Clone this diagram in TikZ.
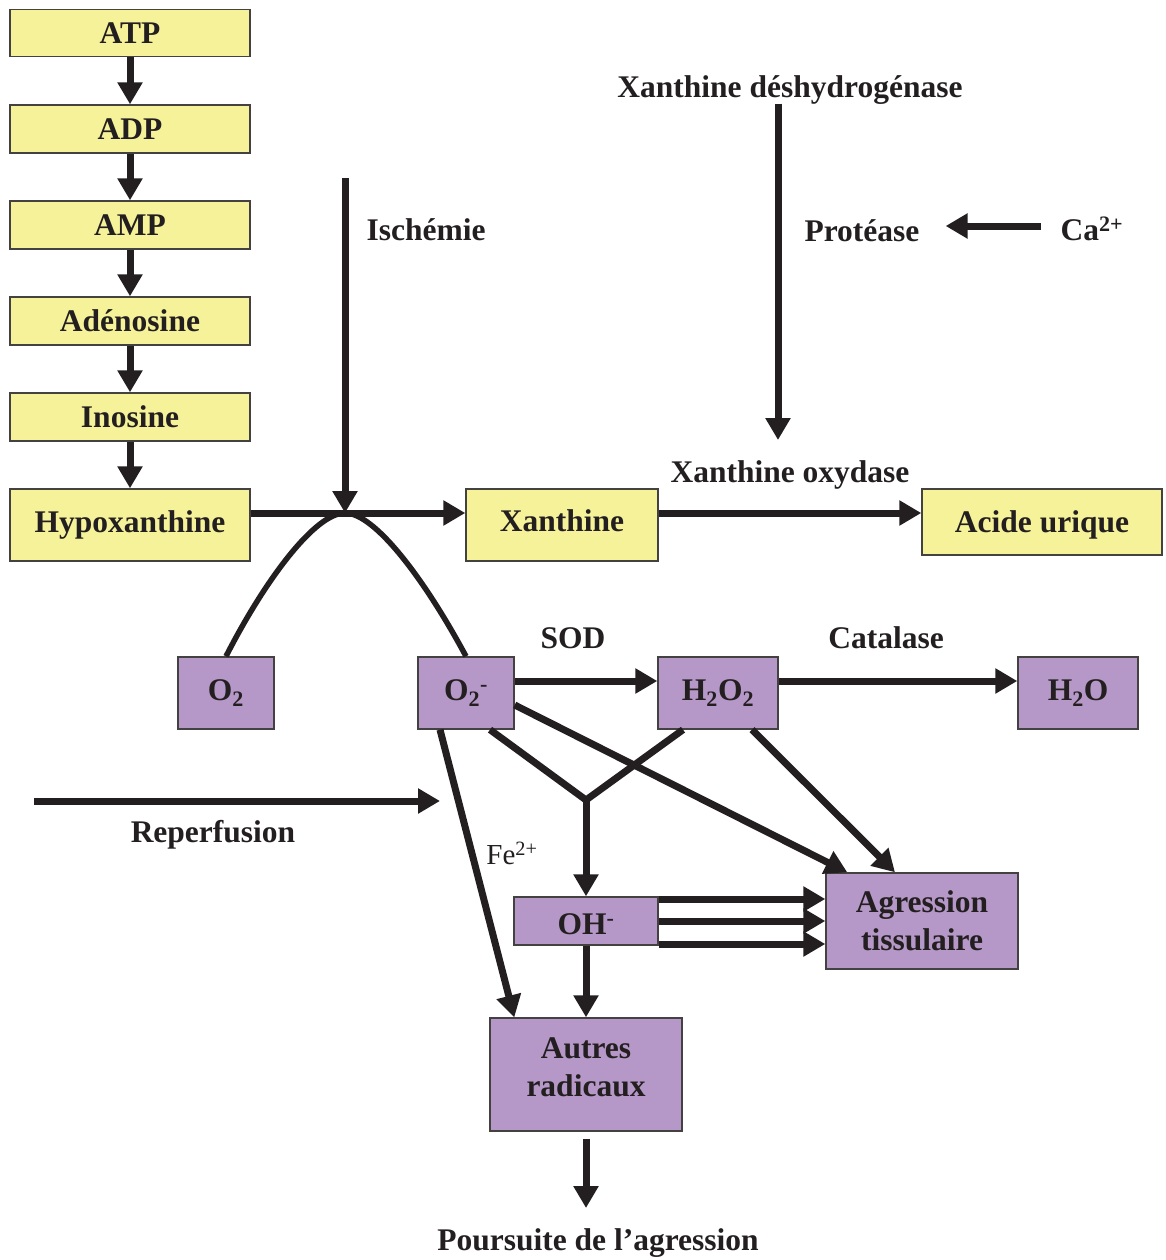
\documentclass[tikz,border=0pt]{standalone}
\usepackage{fontspec}
\setmainfont{Liberation Serif}
\usetikzlibrary{arrows.meta,calc}
\definecolor{ybg}{HTML}{F6F29A}
\definecolor{pbg}{HTML}{B598C7}
\definecolor{ink}{HTML}{231F20}
\begin{document}
\begin{tikzpicture}[x=1pt,y=-1pt,
  txt/.style={font=\fontsize{31.5}{38}\selectfont\bfseries, text=ink, inner sep=0pt, align=center},
  ybox/.style={txt, draw=ink!85, line width=1.4pt, fill=ybg, minimum width=240pt},
  pbox/.style={txt, draw=ink!85, line width=1.4pt, fill=pbg},
  arr/.style={draw=ink, line width=7pt, -{Triangle[length=22pt,width=24pt]}},
  ln/.style={draw=ink, line width=7pt, line join=round},
  curveline/.style={draw=ink, line width=5.5pt}]
\useasboundingbox (0,0) rectangle (1165,1260);
% yellow boxes
\node[ybox, minimum height=47pt] (atp) at (130,33) {ATP};
\node[ybox, minimum height=48pt] (adp) at (130,129) {ADP};
\node[ybox, minimum height=48pt] (amp) at (130,225) {AMP};
\node[ybox, minimum height=48pt] (ado) at (130,321) {Adénosine};
\node[ybox, minimum height=48pt] (ino) at (130,417) {Inosine};
\node[ybox, minimum height=72pt] (hyp) at (130,525) {Hypoxanthine};
\node[ybox, minimum width=192pt, minimum height=72pt, text depth=8pt] (xan) at (562,525) {Xanthine};
\node[ybox, minimum height=66pt, text depth=0pt] (acu) at (1042,522) {Acide urique};
% purple boxes
\node[pbox, minimum width=96pt, minimum height=72pt] (o2) at (226,693) {O\textsubscript{2}};
\node[pbox, minimum width=96pt, minimum height=72pt] (o2m) at (466,693) {O\textsubscript{2}\textsuperscript{-}};
\node[pbox, minimum width=120pt, minimum height=72pt] (h2o2) at (718,693) {H\textsubscript{2}O\textsubscript{2}};
\node[pbox, minimum width=120pt, minimum height=72pt] (h2o) at (1078,693) {H\textsubscript{2}O};
\node[pbox, minimum width=144pt, minimum height=48pt, text height=27pt] (oh) at (586,921) {OH\textsuperscript{-}};
\node[pbox, minimum width=192pt, minimum height=96pt] (agr) at (922,921) {Agression\\tissulaire};
\node[pbox, minimum width=192pt, minimum height=113pt, text depth=14pt] (aut) at (586,1074.5) {Autres\\radicaux};
% labels
\node[txt] (isch) at (426,230) {Ischémie};
\node[txt] (xdh) at (790,90) {Xanthine déshydrogénase};
\node[txt] (prot) at (862,231) {Protéase};
\node[txt] (ca) at (1092,229) {Ca\textsuperscript{2+}};
\node[txt] (xox) at (790,475) {Xanthine oxydase};
\node[txt] (sod) at (573,638) {SOD};
\node[txt] (cat) at (886,638) {Catalase};
\node[txt] (rep) at (213,835) {Reperfusion};
\node[font=\fontsize{29}{34}\selectfont, text=ink, inner sep=0pt] (fe) at (512,853) {Fe\textsuperscript{2+}};
\node[txt] (pours) at (598,1243) {Poursuite de l’agression};
% coordinates
\coordinate (isc0) at (345,178);
\coordinate (isc1) at (345,513);
\coordinate (xd1) at (778,440);
\coordinate (jn) at (586,800);
\coordinate (rp0) at (34,801);
\coordinate (rp1) at (440,801);
\coordinate (pz) at (586,1208);
% chain
\draw[arr] (atp) -- (adp);
\draw[arr] (adp) -- (amp);
\draw[arr] (amp) -- (ado);
\draw[arr] (ado) -- (ino);
\draw[arr] (ino) -- (hyp);
% curve
\draw[curveline] (o2.north) .. controls (265,580) and (315,513) .. (isc1)
  .. controls (375,513) and (425,580) .. (o2m.north);
\draw[arr] (isc0) -- (isc1);
\draw[arr] ([yshift=12pt]hyp.east) -- ([yshift=12pt]xan.west);
\draw[arr] ([yshift=12pt]xan.east) -- ([yshift=9pt]acu.west);
\draw[arr] ([xshift=-12pt,yshift=1pt]xdh.south) -- (xd1);
\draw[arr] ([xshift=-20pt,yshift=3pt]ca.west) -- ([xshift=26pt,yshift=5pt]prot.east);
% reactive species
\draw[arr] ([yshift=12pt]o2m.east) -- ([yshift=12pt]h2o2.west);
\draw[arr] ([yshift=12pt]h2o2.east) -- ([yshift=12pt]h2o.west);
\draw[ln] ([xshift=24pt]o2m.south) -- (jn) -- ([xshift=-35pt]h2o2.south);
\draw[arr] (jn) -- (oh.north);
\draw[arr] ([yshift=-12pt]o2m.east) -- ([xshift=22pt]agr.north west);
\draw[arr] ([xshift=34pt]h2o2.south) -- ([xshift=-27pt]agr.north);
\draw[arr] ([xshift=-26pt]o2m.south) -- ([xshift=25pt]aut.north west);
\draw[arr] (rp0) -- (rp1);
\draw[arr] ($(oh.east)+(0,-22)$) -- ($(agr.west)+(0,-22)$);
\draw[arr] (oh.east) -- (agr.west);
\draw[arr] ($(oh.east)+(0,23)$) -- ($(agr.west)+(0,23)$);
\draw[arr] (oh.south) -- (aut.north);
\draw[arr] ([yshift=-7pt]aut.south) -- (pz);
\end{tikzpicture}
\end{document}
